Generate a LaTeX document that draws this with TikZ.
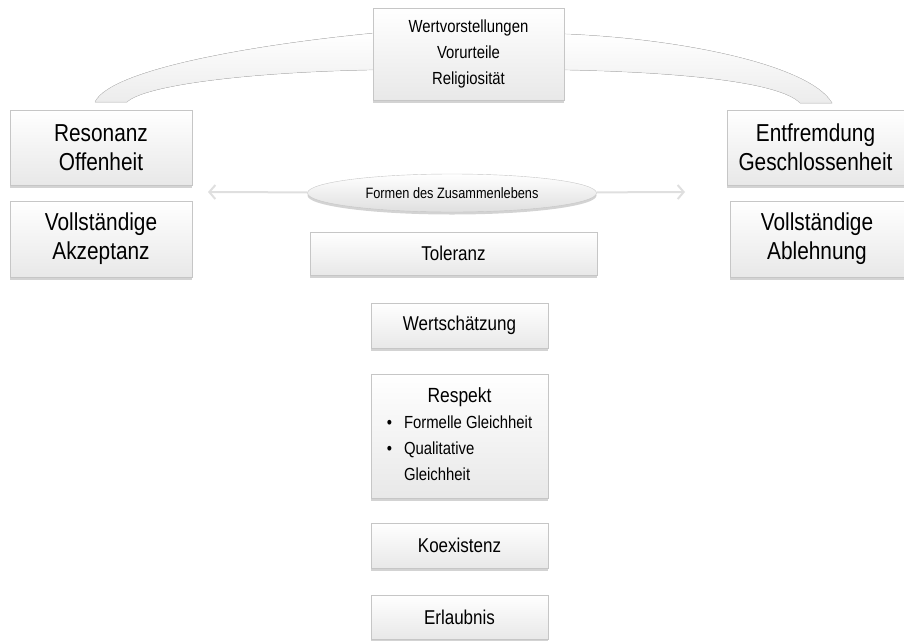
\documentclass[tikz,border=0pt]{standalone}
\usepackage{fontspec}
\setmainfont{Liberation Sans}[FakeStretch=0.85]
\usetikzlibrary{shapes.geometric,shadows,arrows.meta,calc,backgrounds}

\begin{document}
\begin{tikzpicture}[x=1pt, y=-1pt,
    box/.style={draw=gray!45, top color=white, bottom color=gray!18,
        drop shadow={shadow xshift=0pt, shadow yshift=-2.5pt, opacity=0.35},
        align=center, inner sep=0pt},
    big/.style={font=\fontsize{24.5}{29}\selectfont},
    mid/.style={font=\fontsize{20}{24}\selectfont},
    small/.style={font=\fontsize{17.5}{26}\selectfont},
    band/.style={draw=gray!40, top color=white, bottom color=gray!15},
    arr/.style={draw=gray!25, line width=2pt, -{Straight Barb[length=6pt,width=14pt]}}]
    \useasboundingbox (0,0) rectangle (904,640);

    % Top box and the two bands
    \node[box, small, minimum width=191, minimum height=92] (wert) at (468.5,54)
        {Wertvorstellungen\\Vorurteile\\Religiosität};
    \begin{scope}[on background layer]
        \filldraw[band] ($(wert.north west)+(4,25)$) .. controls (250,45) and (110,70) .. (95,102)
            -- (127,102) .. controls (145,85) and (250,72) .. ($(wert.north west)+(4,62)$) -- cycle;
        \filldraw[band] ($(wert.north east)+(-4,26)$) .. controls (680,38) and (810,65) .. (832,103)
            -- (800,103) .. controls (780,82) and (680,72) .. ($(wert.north east)+(-4,62)$) -- cycle;
    \end{scope}

    % Left and right columns
    \node[box, big, minimum width=182, minimum height=75] (reso) at (101,147.5) {Resonanz\\Offenheit};
    \node[box, big, minimum width=182, minimum height=76] (akzep) at (101,239) {Vollständige\\Akzeptanz};
    \node[box, big, minimum width=177, minimum height=75] (entfr) at (815.5,147.5) {Entfremdung\\Geschlossenheit};
    \node[box, big, minimum width=174, minimum height=76] (ableh) at (817,239) {Vollständige\\Ablehnung};

    % Forms of living together
    \node[box, ellipse, bottom color=gray!25, minimum width=289, minimum height=38,
        font=\fontsize{15}{18}\selectfont] (form) at (452,193) {Formen des Zusammenlebens};
    \coordinate (lend) at (208,192);
    \coordinate (rend) at (685,192);
    \draw[arr] (form) -- (lend);
    \draw[arr] (form) -- (rend);

    % Centre column
    \node[box, mid, minimum width=287, minimum height=43] (tol) at (453.5,253.5) {Toleranz};
    \node[box, mid, minimum width=177, minimum height=45] (wsch) at (459.5,325.5) {Wertschätzung};
    \node[box, small, minimum width=177, minimum height=124] (resp) at (459.5,436)
        {\begin{tabular}{@{}l@{\hspace{12pt}}l@{}}
            \multicolumn{2}{c}{\fontsize{20.5}{24}\selectfont Respekt}\\
            \textbullet & Formelle Gleichheit\\
            \textbullet & Qualitative\\
                        & Gleichheit
        \end{tabular}};
    \node[box, mid, minimum width=177, minimum height=45] (koex) at (459.5,545.5) {Koexistenz};
    \node[box, mid, minimum width=177, minimum height=44] (erl) at (459.5,617) {Erlaubnis};
\end{tikzpicture}
\end{document}
